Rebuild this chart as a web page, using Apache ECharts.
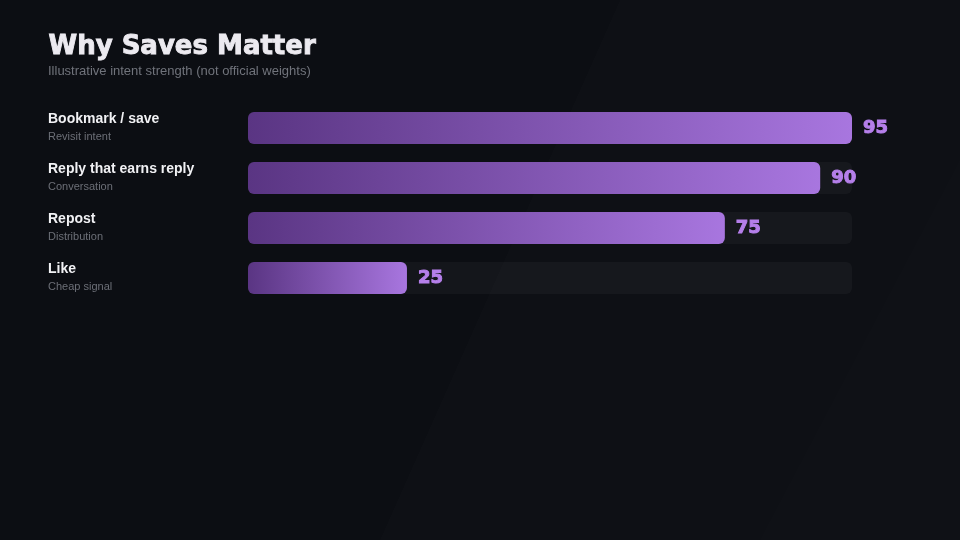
<!DOCTYPE html>
<html>
<head>
<meta charset="utf-8">
<script src="https://cdn.jsdelivr.net/npm/echarts@6/dist/echarts.min.js"></script>
<style>
  html, body { margin: 0; padding: 0; background: #0c0e13; }
  #main { width: 960px; height: 540px; }
</style>
</head>
<body>
<div id="main"></div>
<script>
var names = ['Bookmark / save', 'Reply that earns reply', 'Repost', 'Like'];
var notes = ['Revisit intent', 'Conversation', 'Distribution', 'Cheap signal'];
var scores = [95, 90, 75, 25];

var myChart = echarts.init(document.getElementById('main'));

var option = {
    backgroundColor: '#0c0e13',
    animation: false,
    graphic: [
        // faint diagonal bands in the backdrop
        { type: 'polygon', silent: true, z: -10,
          shape: { points: [[620, 0], [960, 0], [960, 540], [380, 540]] },
          style: { fill: 'rgba(255,255,255,0.01)' } },
        { type: 'polygon', silent: true, z: -10,
          shape: { points: [[960, 160], [960, 540], [760, 540]] },
          style: { fill: 'rgba(255,255,255,0.006)' } },
        { type: 'text', left: 48, top: 34,
          style: { text: 'Why Saves Matter', fill: '#eceaf0',
                   stroke: '#eceaf0', lineWidth: 0.9,
                   font: 'bold 26px "DejaVu Sans"' } },
        { type: 'text', left: 48, top: 65,
          style: { text: 'Illustrative intent strength (not official weights)', fill: '#70737b',
                   font: '13px "Liberation Sans", Arial' } }
    ],
    grid: { left: 248, top: 103, width: 604, height: 200, containLabel: false },
    xAxis: {
        type: 'value', min: 0, max: 95,
        show: false
    },
    yAxis: {
        type: 'category',
        data: names,
        inverse: true,
        axisLine: { show: false },
        axisTick: { show: false },
        axisLabel: {
            align: 'left',
            margin: 200,
            formatter: function (v, i) {
                return '{n|' + v + '}\n{s|' + notes[i] + '}';
            },
            rich: {
                n: { color: '#f1f1f4', fontSize: 14, fontWeight: 'bold',
                     fontFamily: '"Liberation Sans", Arial', lineHeight: 17 },
                s: { color: '#6c6f77', fontSize: 11,
                     fontFamily: '"Liberation Sans", Arial', lineHeight: 17 }
            }
        }
    },
    series: [{
        type: 'bar',
        data: scores,
        barWidth: 32,
        showBackground: true,
        backgroundStyle: { color: 'rgba(255,255,255,0.035)', borderRadius: 6 },
        itemStyle: {
            borderRadius: 6,
            color: new echarts.graphic.LinearGradient(0, 0, 1, 0, [
                { offset: 0, color: '#5a3583' },
                { offset: 1, color: '#a876df' }
            ])
        },
        label: {
            show: true,
            position: 'right',
            distance: 11,
            color: '#b57fea',
            textBorderColor: '#b57fea',
            textBorderWidth: 1,
            fontSize: 18,
            fontWeight: 'bold',
            fontFamily: '"DejaVu Sans"'
        }
    }]
};

myChart.setOption(option);
window.onresize = myChart.resize;
</script>
</body>
</html>
